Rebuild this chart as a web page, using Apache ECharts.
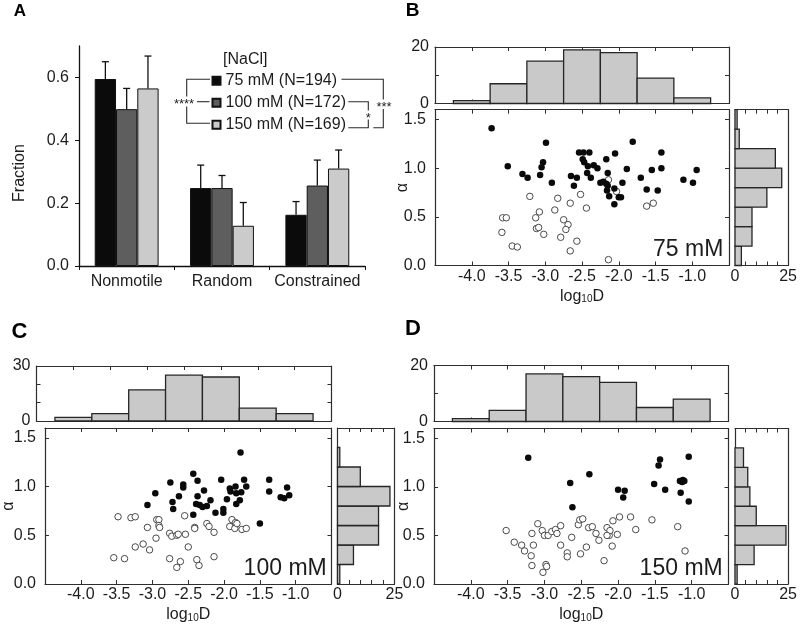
<!DOCTYPE html>
<html><head><meta charset="utf-8">
<script src="https://cdn.jsdelivr.net/npm/echarts@6/dist/echarts.min.js"></script>
<style>html,body{margin:0;padding:0;background:#fff}#c{width:800px;height:624px}</style>
</head><body><div id="c"></div>
<script>
// ---------------- DATA ----------------
// Panel A
const categories = ['Nonmotile', 'Random', 'Constrained'];
const seriesNames = ['75 mM (N=194)', '100 mM (N=172)', '150 mM (N=169)'];
const frac75  = [0.595, 0.248, 0.163];
const frac100 = [0.499, 0.248, 0.256];
const frac150 = [0.565, 0.128, 0.310];
const err75  = [0.055, 0.073, 0.042];
const err100 = [0.066, 0.040, 0.081];
const err150 = [0.103, 0.074, 0.059];
const fractionTicks = [0, 0.2, 0.4, 0.6];

// Tick labels for B-D
const dTicks = [-4.0, -3.5, -3.0, -2.5, -2.0, -1.5, -1.0];
const alphaTicks = [0, 0.5, 1.0, 1.5];

// Histogram bins
const dBinCenters = [-4.0, -3.5, -3.0, -2.5, -2.0, -1.5, -1.0];
const alphaBinCenters = [0.1, 0.3, 0.5, 0.7, 0.9, 1.1, 1.3, 1.5];
const D_BIN = 0.5, A_BIN = 0.2;

const histB_D = [1, 7, 15, 19, 18, 9, 2];
const histB_alpha = [3, 8, 8, 15, 22, 19, 2, 1];
const histC_D = [2, 4, 17, 25, 24, 7, 4];
const histC_alpha = [1, 7, 18, 18, 23, 10, 1, 0];
const histD_D = [1, 4, 17, 16, 14, 5, 8];
const histD_alpha = [1, 9, 24, 10, 7, 6, 4, 0];

// Scatter: [log10D, alpha]
const bFilled = [[-3.73,1.41],[-3.51,1.02],[-3.31,0.94],[-3.24,0.90],[-2.99,1.26],[-3.03,1.06],[-3.05,1.01],[-3.07,0.93],[-2.91,0.85],[-2.65,0.92],[-2.57,0.90],[-2.61,0.82],[-2.54,1.16],[-2.48,1.16],[-2.40,1.16],[-2.49,1.09],[-2.47,1.06],[-2.42,1.02],[-2.43,0.95],[-2.38,0.90],[-2.34,1.03],[-2.29,1.00],[-2.17,1.09],[-2.15,0.95],[-2.05,1.15],[-2.25,0.85],[-2.21,0.86],[-2.17,0.84],[-2.15,0.82],[-2.16,0.77],[-2.13,0.71],[-2.06,0.79],[-2.06,0.63],[-2.00,0.70],[-1.97,0.70],[-1.95,0.85],[-1.89,0.99],[-1.81,1.27],[-1.70,0.90],[-1.62,0.78],[-1.55,0.98],[-1.47,0.77],[-1.42,1.16],[-1.42,1.00],[-1.12,0.88],[-0.99,0.85],[-0.94,0.98]];
const bOpen = [[-3.21,0.71],[-2.83,0.69],[-2.66,0.64],[-2.52,0.73],[-2.44,0.59],[-2.87,0.57],[-3.08,0.55],[-3.13,0.49],[-3.58,0.49],[-3.53,0.49],[-3.59,0.34],[-3.45,0.20],[-3.38,0.19],[-3.12,0.38],[-3.09,0.39],[-3.02,0.32],[-2.75,0.47],[-2.69,0.42],[-2.72,0.37],[-2.79,0.29],[-2.57,0.25],[-2.66,0.15],[-2.14,0.06],[-2.14,0.88],[-2.03,0.76],[-1.62,0.61],[-1.53,0.64]];
const cFilled = [[-3.07,0.81],[-2.96,0.93],[-2.75,1.04],[-2.72,0.84],[-2.71,0.77],[-2.63,0.90],[-2.57,1.02],[-2.57,0.99],[-2.43,1.13],[-2.37,1.06],[-2.37,0.90],[-2.43,0.71],[-2.39,0.82],[-2.34,0.81],[-2.30,0.79],[-2.24,0.80],[-2.28,0.96],[-2.19,0.86],[-2.12,0.73],[-2.04,1.07],[-2.01,0.77],[-2.01,0.73],[-1.96,0.87],[-1.92,0.98],[-1.91,0.95],[-1.84,1.00],[-1.83,0.93],[-1.83,0.82],[-1.78,0.86],[-1.76,0.94],[-1.77,1.35],[-1.72,1.07],[-1.69,1.00],[-1.50,0.62],[-1.37,1.07],[-1.37,0.95],[-1.21,0.89],[-1.16,0.88],[-1.12,0.99],[-1.09,0.91]];
const cOpen = [[-3.48,0.69],[-3.30,0.68],[-3.24,0.69],[-3.54,0.27],[-3.39,0.26],[-3.24,0.38],[-3.13,0.41],[-3.04,0.35],[-3.07,0.58],[-2.95,0.47],[-2.94,0.66],[-2.91,0.66],[-2.91,0.60],[-2.90,0.58],[-2.76,0.52],[-2.73,0.49],[-2.66,0.50],[-2.64,0.51],[-2.54,0.51],[-2.55,0.70],[-2.50,0.38],[-2.41,0.58],[-2.41,0.57],[-2.76,0.26],[-2.66,0.17],[-2.61,0.23],[-2.38,0.25],[-2.35,0.19],[-2.24,0.62],[-2.21,0.59],[-2.14,0.53],[-2.14,0.28],[-1.92,0.59],[-1.89,0.66],[-1.85,0.57],[-1.84,0.63],[-1.82,0.62],[-1.75,0.56],[-1.69,0.57]];
const dFilled = [[-3.22,1.30],[-2.65,1.04],[-2.62,0.79],[-2.39,1.13],[-2.00,0.97],[-1.91,0.96],[-1.93,0.89],[-1.51,1.03],[-1.43,1.28],[-1.45,1.22],[-1.36,0.97],[-1.16,1.06],[-1.13,1.05],[-1.12,1.07],[-1.15,0.94],[-1.04,1.31],[-1.04,0.85],[-1.10,1.06]];
const dOpen = [[-3.52,0.55],[-3.41,0.43],[-3.31,0.40],[-3.27,0.34],[-3.18,0.29],[-3.17,0.19],[-3.17,0.52],[-3.15,0.40],[-3.09,0.62],[-3.03,0.55],[-3.00,0.50],[-2.95,0.50],[-2.90,0.54],[-2.85,0.56],[-2.83,0.52],[-2.78,0.60],[-3.02,0.12],[-2.98,0.20],[-2.97,0.18],[-2.78,0.40],[-2.69,0.32],[-2.69,0.28],[-2.63,0.48],[-2.54,0.61],[-2.52,0.66],[-2.48,0.67],[-2.51,0.31],[-2.43,0.38],[-2.40,0.58],[-2.35,0.59],[-2.30,0.52],[-2.26,0.45],[-2.19,0.24],[-2.15,0.58],[-2.12,0.50],[-2.11,0.55],[-2.15,0.50],[-2.08,0.39],[-2.07,0.65],[-2.01,0.51],[-1.98,0.69],[-1.83,0.69],[-1.76,0.56],[-1.54,0.66],[-1.19,0.59],[-1.09,0.34]];

// ---------------- STYLE / LAYOUT ----------------
const FONT = 'Liberation Sans, Arial, sans-serif';
const TXT = '#1c1c1c', LINE = '#2e2e2e';
const BAR_COLORS = ['#0b0b0b', '#5e5e5e', '#cbcbcb'];
const HIST_FILL = '#c9c9c9', HIST_STROKE = '#262626';
const BAR_GAP = 0.33;

const grids = [], xAxes = [], yAxes = [], series = [];
function addGrid(l, t, w, h) { grids.push({left: l, top: t, width: w, height: h, containLabel: false}); return grids.length - 1; }
const AX_LINE = {show: true, onZero: false, lineStyle: {color: LINE, width: 1.2}};
const TICK_IN = {show: true, inside: true, length: 4, lineStyle: {color: LINE, width: 1}};
const NO_TICK = {show: false};
const NO_LBL = {show: false};
function LBL(fmt, margin, custom, isX) {
  const o = {show: true, formatter: fmt, color: TXT, fontFamily: FONT, fontSize: 16, margin: margin, hideOverlap: false};
  if (isX) { o.alignMinLabel = 'center'; o.alignMaxLabel = 'center'; }
  else { o.verticalAlignMinLabel = 'middle'; o.verticalAlignMaxLabel = 'middle'; }
  if (custom) o.customValues = custom;
  return o;
}
function valAxis(gi, pos, min, max, interval, tick, label, extra) {
  return Object.assign({type: 'value', gridIndex: gi, position: pos, min: min, max: max, interval: interval,
    axisLine: AX_LINE, axisTick: tick, axisLabel: label, splitLine: {show: false}}, extra || {});
}
const near = (a, b) => Math.abs(a - b) < 1e-6;

// ---------------- PANEL A ----------------
const gA = addGrid(79, 46, 286, 220);
xAxes.push({type: 'category', gridIndex: gA, data: categories, boundaryGap: true,
  axisLine: {show: true, onZero: false, lineStyle: {color: '#111', width: 1.3}},
  axisTick: {show: true, inside: false, length: 4, interval: 0, lineStyle: {color: '#111'}},
  axisLabel: {color: TXT, fontFamily: FONT, fontSize: 16, margin: 8, interval: 0, hideOverlap: false}});
yAxes.push({type: 'value', gridIndex: gA, min: 0, max: 0.7, interval: 0.2,
  axisLine: {show: true, onZero: false, lineStyle: {color: '#111', width: 1.3}},
  axisTick: {show: true, inside: false, length: 4, customValues: fractionTicks, lineStyle: {color: '#111'}},
  axisLabel: {color: TXT, fontFamily: FONT, fontSize: 16, margin: 10, customValues: fractionTicks,
    verticalAlignMinLabel: 'middle', verticalAlignMaxLabel: 'middle',
    formatter: v => fractionTicks.some(t => near(t, v)) ? v.toFixed(1) : ''},
  splitLine: {show: false}});

const fracs = [frac75, frac100, frac150], errs = [err75, err100, err150];
fracs.forEach((vals, k) => {
  series.push({type: 'bar', name: seriesNames[k], xAxisIndex: 0, yAxisIndex: 0, data: vals,
    barGap: '0%', barCategoryGap: (BAR_GAP * 100) + '%',
    itemStyle: {color: BAR_COLORS[k], borderColor: '#111', borderWidth: 1}, silent: true});
});
fracs.forEach((vals, k) => {
  series.push({type: 'custom', name: 'err' + k, xAxisIndex: 0, yAxisIndex: 0, z: 3, silent: true,
    data: vals.map((v, i) => [i, v, errs[k][i]]),
    encode: {x: 0, y: 1},
    renderItem: (params, api) => {
      const i = api.value(0), v = api.value(1), e = api.value(2);
      const bw = api.size([1, 0])[0] * (1 - BAR_GAP) / 3;
      const base = api.coord([i, v]), top = api.coord([i, v + e]);
      const x = base[0] + (k - 1) * bw;
      return {type: 'group', children: [
        {type: 'line', shape: {x1: x, y1: base[1], x2: x, y2: top[1]}, style: {stroke: '#111', lineWidth: 1.3}},
        {type: 'line', shape: {x1: x - 3.5, y1: top[1], x2: x + 3.5, y2: top[1]}, style: {stroke: '#111', lineWidth: 1.3}}
      ]};
    }});
});

// ---------------- PANELS B, C, D ----------------
const fmtD = v => dTicks.some(t => near(t, v)) ? v.toFixed(1) : '';
const fmtA = v => alphaTicks.some(t => near(t, v)) ? v.toFixed(1) : '';
const panels = [
  {g: [[435, 47, 294, 56.5], [435, 109.7, 294, 155.8], [735, 109.7, 57, 155.8]], dHist: histB_D, aHist: histB_alpha, histMax: 20, filled: bFilled, open: bOpen, aGap: 24},
  {g: [[36.5, 366, 295, 55], [36.5, 428, 295, 156], [337.5, 428, 57, 156]], dHist: histC_D, aHist: histC_alpha, histMax: 30, filled: cFilled, open: cOpen, aGap: 28},
  {g: [[434, 365.5, 294.5, 56], [434, 428.5, 294.5, 155.5], [735, 428.5, 57, 155.5]], dHist: histD_D, aHist: histD_alpha, histMax: 20, filled: dFilled, open: dOpen, aGap: 22}
];

panels.forEach(p => {
  const gt = addGrid.apply(null, p.g[0]), gs = addGrid.apply(null, p.g[1]), gr = addGrid.apply(null, p.g[2]);
  // top histogram axes
  const xt = xAxes.length;
  xAxes.push(valAxis(gt, 'bottom', -4.5, -0.5, 0.5, TICK_IN, NO_LBL));
  xAxes.push(valAxis(gt, 'top', -4.5, -0.5, 0.5, TICK_IN, NO_LBL));
  const yt = yAxes.length;
  yAxes.push(valAxis(gt, 'left', 0, p.histMax, 10, TICK_IN, LBL(v => String(v), 6, [0, p.histMax], false)));
  yAxes.push(valAxis(gt, 'right', 0, p.histMax, 10, TICK_IN, NO_LBL));
  // scatter axes
  const xs = xAxes.length;
  xAxes.push(valAxis(gs, 'bottom', -4.5, -0.5, 0.5, TICK_IN, LBL(fmtD, 3, dTicks, true), {
    name: '{m|log}{s|10}{m|D}', nameLocation: 'middle', nameGap: 23, nameMoveOverlap: false,
    nameTextStyle: {fontFamily: FONT, color: TXT, fontSize: 16, rich: {
      m: {fontFamily: FONT, color: TXT, fontSize: 16, lineHeight: 16, verticalAlign: 'top'},
      s: {fontFamily: FONT, color: TXT, fontSize: 10, lineHeight: 10, verticalAlign: 'bottom', padding: [8, 0, 0, 0]}
    }}}));
  xAxes.push(valAxis(gs, 'top', -4.5, -0.5, 0.5, TICK_IN, NO_LBL));
  const ys = yAxes.length;
  yAxes.push(valAxis(gs, 'left', 0, 1.6, 0.5, TICK_IN, LBL(fmtA, 9, alphaTicks, false), {
    name: 'α', nameLocation: 'middle', nameGap: p.aGap, nameRotate: 90, nameMoveOverlap: false,
    nameTextStyle: {fontFamily: FONT, color: TXT, fontSize: 16}}));
  yAxes.push(valAxis(gs, 'right', 0, 1.6, 0.5, TICK_IN, NO_LBL));
  // right histogram axes
  const xr = xAxes.length;
  xAxes.push(valAxis(gr, 'bottom', 0, 25, 5, TICK_IN, LBL(v => String(v), 3, [0, 25], true)));
  xAxes.push(valAxis(gr, 'top', 0, 25, 5, TICK_IN, NO_LBL));
  const yr = yAxes.length;
  yAxes.push(valAxis(gr, 'left', 0, 1.6, 0.2, NO_TICK, NO_LBL));
  yAxes.push(valAxis(gr, 'right', 0, 1.6, 0.2, NO_TICK, NO_LBL));

  // top histogram
  series.push({type: 'custom', xAxisIndex: xt, yAxisIndex: yt, silent: true, z: 3,
    data: dBinCenters.map((c, i) => [c, p.dHist[i]]).filter(d => d[1] > 0),
    encode: {x: 0, y: 1},
    renderItem: (params, api) => {
      const c = api.value(0), n = api.value(1);
      const p0 = api.coord([c - D_BIN / 2, n]), p1 = api.coord([c + D_BIN / 2, 0]);
      return {type: 'rect', shape: {x: p0[0], y: p0[1], width: p1[0] - p0[0], height: p1[1] - p0[1]},
        style: {fill: HIST_FILL, stroke: HIST_STROKE, lineWidth: 1.3}};
    }});
  // right histogram
  series.push({type: 'custom', xAxisIndex: xr, yAxisIndex: yr, silent: true, z: 3,
    data: alphaBinCenters.map((c, i) => [p.aHist[i], c]).filter(d => d[0] > 0),
    encode: {x: 0, y: 1},
    renderItem: (params, api) => {
      const n = api.value(0), c = api.value(1);
      const p0 = api.coord([0, c + A_BIN / 2]), p1 = api.coord([n, c - A_BIN / 2]);
      return {type: 'rect', shape: {x: p0[0], y: p0[1], width: p1[0] - p0[0], height: p1[1] - p0[1]},
        style: {fill: HIST_FILL, stroke: HIST_STROKE, lineWidth: 1.3}};
    }});
  // scatter
  series.push({type: 'scatter', xAxisIndex: xs, yAxisIndex: ys, data: p.open, symbol: 'circle', symbolSize: 6.5,
    itemStyle: {color: '#fff', borderColor: '#4a4a4a', borderWidth: 1, opacity: 1}, silent: true, z: 4});
  series.push({type: 'scatter', xAxisIndex: xs, yAxisIndex: ys, data: p.filled, symbol: 'circle', symbolSize: 6.5,
    itemStyle: {color: '#0a0a0a', opacity: 1}, silent: true, z: 5});
});

// ---------------- ANNOTATIONS ----------------
function txt(s, x, y, size, opts) {
  opts = opts || {};
  const align = opts.align || 'center', va = opts.va || 'middle';
  return {type: 'text', x: x, y: y, rotation: opts.rotation || 0, z: 50, silent: true,
    style: {text: s, fill: opts.color || TXT, font: (opts.bold ? 'bold ' : '') + size + 'px ' + FONT,
      align: align, verticalAlign: va, textAlign: align, textVerticalAlign: va}};
}
function pl(points, w) {
  return {type: 'polyline', z: 50, silent: true, shape: {points: points}, style: {stroke: '#2a2a2a', lineWidth: w || 1.1, fill: null}};
}
const graphics = [
  txt('A', 20, 11, 17, {bold: true, color: '#000'}),
  txt('B', 412.5, 11, 19, {bold: true, color: '#000'}),
  txt('C', 19.5, 331.5, 22, {bold: true, color: '#000'}),
  txt('D', 413, 328.5, 22, {bold: true, color: '#000'}),
  txt('Fraction', 20, 173, 16, {rotation: Math.PI / 2}),
  txt('[NaCl]', 223, 60, 16, {align: 'left'}),
  // left bracket
  pl([[210, 79.3], [186.7, 79.3], [186.7, 96.5]]),
  pl([[186.7, 106.5], [186.7, 123.3], [210, 123.3]]),
  pl([[197, 101.7], [209.5, 101.7]]),
  txt('****', 184, 104.5, 13),
  // right outer bracket (75 vs 150)
  pl([[341.5, 79.3], [383.3, 79.3], [383.3, 99.5]]),
  pl([[383.3, 109], [383.3, 127.7], [373.3, 127.7]]),
  txt('***', 384, 107.5, 13),
  // right inner bracket (100 vs 150)
  pl([[348.3, 101.7], [368.3, 101.7], [368.3, 110.5]]),
  pl([[368.3, 119.5], [368.3, 127.7], [348.3, 127.7]]),
  txt('*', 368.3, 118, 13),
  // concentration labels
  txt('75 mM', 723.3, 250, 23, {align: 'right'}),
  txt('100 mM', 326.7, 568.5, 23, {align: 'right'}),
  txt('150 mM', 722.7, 569, 23, {align: 'right'})
];

const chart = echarts.init(document.getElementById('c'), null, {renderer: 'canvas'});
chart.setOption({
  animation: false,
  backgroundColor: '#fff',
  textStyle: {fontFamily: FONT},
  grid: grids,
  xAxis: xAxes,
  yAxis: yAxes,
  legend: {show: true, data: seriesNames, orient: 'vertical', left: 211.5, top: 72.7, padding: 0,
    itemWidth: 8, itemHeight: 8, itemGap: 6, icon: 'rect', selectedMode: false,
    textStyle: {fontFamily: FONT, fontSize: 16, color: TXT, lineHeight: 16}},
  series: series,
  graphic: {elements: graphics}
});
</script></body></html>
